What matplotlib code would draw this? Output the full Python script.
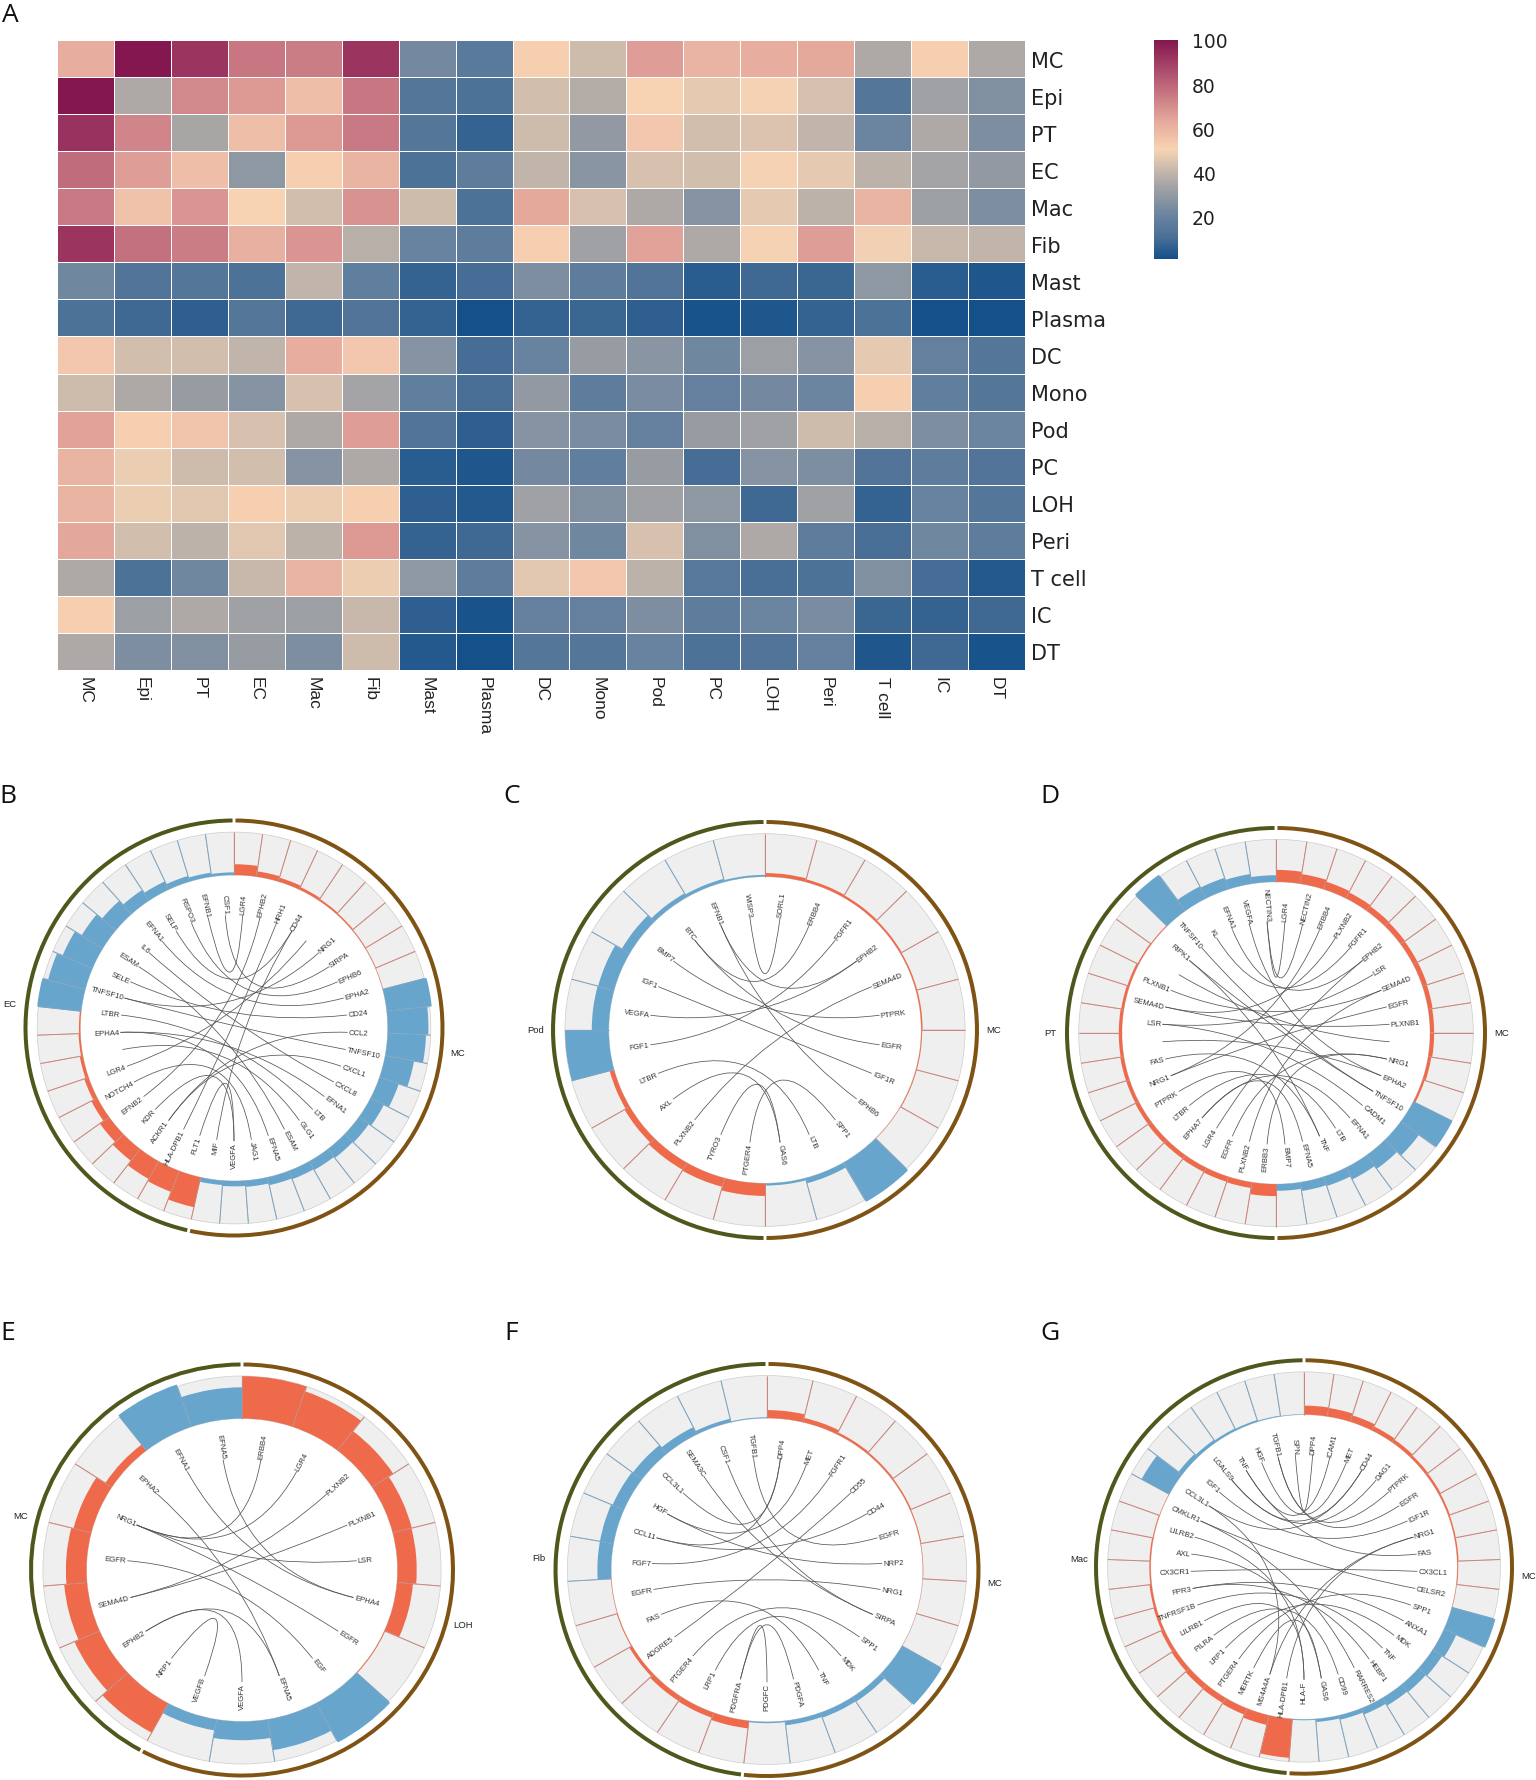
import numpy as np
import matplotlib
matplotlib.use('Agg')
import matplotlib.pyplot as plt
from matplotlib.colors import LinearSegmentedColormap
from matplotlib.patches import Wedge, PathPatch
from matplotlib.path import Path

W, H = 1536, 1781

##################
# Panel A: datos #
##################

cell_types = ['MC', 'Epi', 'PT', 'EC', 'Mac', 'Fib', 'Mast', 'Plasma', 'DC', 'Mono',
              'Pod', 'PC', 'LOH', 'Peri', 'T cell', 'IC', 'DT']

heat_mc = [62, 100, 92, 76, 74, 92, 23, 16, 52, 42, 66, 60, 62, 63, 36, 52, 36]
heat_epi = [100, 36, 71, 67, 57, 76, 14, 12, 43, 37, 51, 47, 50, 44, 14, 33, 26]
heat_pt = [93, 72, 35, 57, 67, 75, 14, 7, 42, 30, 54, 43, 45, 40, 21, 36, 25]
heat_ec = [78, 66, 57, 29, 52, 60, 12, 17, 40, 28, 44, 43, 50, 47, 39, 34, 30]
heat_mac = [75, 56, 68, 51, 43, 69, 42, 12, 63, 44, 36, 27, 47, 39, 60, 32, 25]
heat_fib = [92, 77, 74, 61, 68, 38, 20, 17, 52, 33, 65, 36, 50, 66, 49, 41, 40]
heat_mast = [22, 13, 14, 12, 40, 18, 7, 10, 25, 17, 13, 5, 9, 8, 29, 5, 3]
heat_plasma = [12, 9, 6, 14, 9, 13, 7, 1, 7, 8, 6, 2, 3, 7, 12, 1, 1]
heat_dc = [54, 43, 43, 40, 62, 54, 27, 10, 20, 31, 28, 22, 32, 27, 47, 19, 14]
heat_mono = [42, 36, 31, 27, 44, 34, 18, 11, 30, 17, 24, 19, 23, 21, 52, 18, 14]
heat_pod = [65, 52, 55, 44, 36, 66, 13, 6, 27, 24, 19, 31, 33, 42, 38, 25, 21]
heat_pc = [60, 48, 42, 43, 27, 36, 5, 3, 23, 18, 31, 10, 27, 25, 13, 17, 13]
heat_loh = [60, 48, 46, 52, 48, 52, 6, 4, 33, 26, 33, 29, 9, 33, 7, 20, 14]
heat_peri = [64, 43, 39, 46, 39, 67, 7, 9, 27, 22, 44, 26, 36, 17, 11, 22, 17]
heat_tcell = [36, 12, 22, 41, 60, 48, 29, 17, 46, 54, 39, 15, 11, 12, 26, 10, 4]
heat_ic = [52, 32, 36, 33, 32, 41, 6, 2, 19, 19, 25, 17, 21, 24, 8, 7, 9]
heat_dt = [36, 25, 26, 31, 25, 42, 4, 1, 14, 14, 20, 12, 13, 19, 3, 9, 2]

heat_rows = [heat_mc, heat_epi, heat_pt, heat_ec, heat_mac, heat_fib, heat_mast, heat_plasma,
             heat_dc, heat_mono, heat_pod, heat_pc, heat_loh, heat_peri, heat_tcell, heat_ic, heat_dt]

cbar_ticks = [20, 40, 60, 80, 100]

######################
# Paneles B-G: datos #
######################

b_genes = ['LGR4', 'EPHB2', 'HRH1', 'CD44', '', 'NRG1', 'SIRPA', 'EPHB6', 'EPHA2', 'CD24', 'CCL2',
           'TNFSF10', 'CXCL1', 'CXCL8', 'EFNA1', 'LTB', 'GLG1', 'ESAM', 'EFNA5', 'JAG1', 'VEGFA',
           'MIF', 'FLT1', 'HLA-DPB1', 'ACKR1', 'KDR', 'EFNB2', 'NOTCH4', 'LGR4', '', 'EPHA4', 'LTBR',
           'TNFSF10', 'SELE', 'ESAM', 'IL6', 'EFNA1', 'SELP', 'RSPO3', 'EFNB1', 'CSF1']
b_links = [(39, 0), (38, 7), (37, 3), (40, 6), (35, 13), (36, 8), (34, 17), (33, 9), (32, 5),
           (31, 15), (30, 18), (29, 16), (28, 4), (27, 19), (26, 1), (25, 20), (24, 12), (24, 10),
           (23, 2), (22, 20), (21, 3), (30, 14), (32, 11)]
b_right_red = [.24, .12, .09, .06, .04, .03, .02, .015, .01]
b_right_blue = [1.0, .9, .85, .65, .45, .33, .27, .25, .22, .2, .18, .14, .12, .1]
b_left_red = [.68, .5, .45, .33, .25, .15, .1, .07, .04, .03]
b_left_blue = [.98, .85, .72, .55, .4, .28, .2, .13, .09, .06]

c_genes = ['SORL1', 'ERBB4', 'FGFR1', 'EPHB2', 'SEMA4D', 'PTPRK', 'EGFR', 'IGF1R', 'EPHB6', 'SPP1',
           'LTB', 'GAS6', 'PTGER4', 'TYRO3', 'PLXNB2', 'AXL', 'LTBR', 'FGF1', 'VEGFA', 'IGF1',
           'BMP7', 'BTC', 'EFNB1', 'WISP3']
c_links = [(0, 23), (1, 21), (2, 17), (3, 22), (4, 14), (5, 20), (6, 21), (7, 19), (8, 22),
           (9, 12), (10, 16), (11, 15), (11, 13), (3, 18)]
c_right_red = [.08, .06, .05, .04, .03, .03, .02, .02, .01]
c_right_blue = [1.0, .12, .05]
c_left_red = [.28, .2, .18, .13, .1]
c_left_blue = [.95, .37, .36, .2, .1, .07, .04]

d_genes = ['LGR4', 'NECTIN2', 'ERBB4', 'PLXNB2', 'FGFR1', 'EPHB2', 'LSR', 'SEMA4D', 'EGFR', 'PLXNB1',
           '', 'NRG1', 'EPHA2', 'TNFSF10', 'CADM1', 'EFNA1', 'LTB', 'TNF', 'EFNA5', 'BMP7', 'ERBB3',
           'PLXNB2', 'EGFR', 'LGR4', 'EPHA7', 'LTBR', 'PTPRK', 'NRG1', 'FAS', '', 'LSR', 'SEMA4D',
           'PLXNB1', '', 'RIPK1', 'TNFSF10', 'KL', 'EFNA1', 'VEGFA', 'NECTIN3']
d_links = [(0, 39), (1, 39), (2, 27), (3, 31), (4, 36), (5, 37), (6, 30), (7, 21), (7, 32), (8, 27),
           (9, 31), (10, 33), (11, 22), (11, 20), (12, 38), (13, 34), (13, 35), (14, 30), (15, 24),
           (16, 25), (17, 28), (17, 34), (18, 24), (19, 26), (29, 12), (23, 5)]
d_right_red = [.27, .22, .18, .15, .13, .12, .11, .11, .1, .09, .09, .07, .05]
d_right_blue = [.97, .5, .38, .3, .22, .2, .15]
d_left_red = [.27, .13, .12, .11, .1, .1, .09, .08, .08, .07, .07, .06, .05, .03, .02]
d_left_blue = [1.0, .3, .27, .22, .15]

e_genes = ['ERBB4', 'LGR4', 'PLXNB2', 'PLXNB1', 'LSR', 'EPHA4', 'EGFR', 'EGF', 'EFNA5', 'VEGFA',
           'VEGFB', 'NRP1', 'EPHB2', 'SEMA4D', 'EGFR', 'NRG1', 'EPHA2', 'EFNA1', 'EFNA5']
e_links = [(0, 15), (1, 15), (2, 13), (3, 13), (4, 15), (5, 17), (5, 18), (6, 15), (7, 14),
           (8, 16), (8, 12), (9, 12), (11, 10)]
e_right_red = [.95, .84, .55, .43, .42, .35, .02]
e_right_blue = [1.0, .7, .42, .25]
e_left_red = [.75, .6, .5, .45, .4, .17]
e_left_blue = [1.0, .7]

f_genes = ['DPP4', 'MET', 'FGFR1', 'CD55', 'CD44', 'EGFR', 'NRP2', 'NRG1', 'SIRPA', 'SPP1', 'MDK',
           'TNF', 'PDGFA', 'PDGFC', 'PDGFRA', 'LRP1', 'PTGER4', 'ADGRE5', 'FAS', 'EGFR', 'FGF7',
           'CCL11', 'HGF', 'CCL3L1', 'SEMA3C', 'CSF1', 'TGFB1']
f_links = [(0, 21), (1, 22), (2, 20), (3, 17), (4, 21), (5, 26), (6, 22), (7, 19), (8, 24), (8, 25),
           (0, 23), (9, 16), (10, 15), (11, 18), (12, 14), (13, 14)]
f_right_red = [.18, .1, .05, .04, .03, .02, .01, .005, .005]
f_right_blue = [1.0, .13, .12, .1, .03]
f_left_red = [.17, .12, .11, .07, .02, .01]
f_left_blue = [.3, .3, .27, .25, .18, .08, .02]

g_genes = ['DPP4', 'ICAM1', 'MET', 'CD44', 'DAG1', 'PTPRK', 'EGFR', 'IGF1R', 'NRG1', 'FAS', 'CX3CL1',
           'CELSR2', 'SPP1', 'ANXA1', 'MDK', 'TNF', 'HEBP1', 'RARRES2', 'CD99', 'GAS6', 'HLA-F',
           'HLA-DPB1', 'MS4A4A', 'MERTK', 'PTGER4', 'LRP1', 'PILRA', 'LILRB1', 'TNFRSF1B', 'FPR3',
           'CX3CR1', 'AXL', 'LILRB2', 'CMKLR1', 'CCL3L1', 'IGF1', 'LGALS9', 'TNF', 'HGF', 'TGFB1', 'SPN']
g_links = [(0, 40), (1, 37), (2, 38), (3, 36), (4, 36), (5, 39), (6, 39), (7, 35), (8, 21), (9, 37),
           (10, 30), (11, 33), (12, 24), (13, 29), (14, 25), (15, 28), (16, 29), (17, 33), (18, 26),
           (19, 31), (20, 27), (20, 32), (22, 34), (23, 19), (8, 22), (3, 34)]
g_right_red = [.2, .19, .15, .1, .08, .06, .05, .04, .03, .03, .02, .01]
g_right_blue = [1.0, .3, .25, .22, .2, .15, .1, .07, .02]
g_left_red = [.87, .22, .15, .13, .12, .1, .08, .06, .05, .03, .03, .02, .01]
g_left_blue = [.7, .1, .07, .05, .04, .02, .01]

# letra, nombres de sector, genes, enlaces, alturas, centro (px), radios (px)
panels = [
    ('B', ('MC', 'EC'), b_genes, b_links, (b_right_red, b_right_blue, b_left_red, b_left_blue), (234, 1029), 210.5, 209.5, (8, 797)),
    ('C', ('MC', 'Pod'), c_genes, c_links, (c_right_red, c_right_blue, c_left_red, c_left_blue), (765, 1031), 214, 210, (512, 797)),
    ('D', ('MC', 'PT'), d_genes, d_links, (d_right_red, d_right_blue, d_left_red, d_left_blue), (1276, 1034), 211, 207, (1050, 797)),
    ('E', ('LOH', 'MC'), e_genes, e_links, (e_right_red, e_right_blue, e_left_red, e_left_blue), (242, 1571), 213, 207.5, (8, 1334)),
    ('F', ('MC', 'Fib'), f_genes, f_links, (f_right_red, f_right_blue, f_left_red, f_left_blue), (767, 1571), 213.5, 208, (511, 1334)),
    ('G', ('MC', 'Mac'), g_genes, g_links, (g_right_red, g_right_blue, g_left_red, g_left_blue), (1304, 1568), 210, 208.7, (1050, 1334)),
]

RED = '#ee6a4a'
BLUE = '#67a5cd'
RED_LINE = '#cf8378'
BLUE_LINE = '#7ba4c2'
BROWN = '#7f5314'
OLIVE = '#50561c'
R0, R1 = 0.73, 0.935


def px_axes(fig, x, y, w, h):
    return fig.add_axes([x / W, 1 - (y + h) / H, w / W, h / H])


def mpl_ang(t):
    # angulo horario desde arriba -> angulo de matplotlib
    return 90 - t


def wedge(ax, t0, t1, r, width, **kw):
    ax.add_patch(Wedge((0, 0), r, mpl_ang(t1), mpl_ang(t0), width=width, **kw))


def draw_chord(fig, panel):
    letter, sectors, genes, links, heights, center, rx, ry, letter_pos = panel
    pad = 1.12
    ax = px_axes(fig, center[0] - rx * pad, center[1] - ry * pad, 2 * rx * pad, 2 * ry * pad)
    ax.set_xlim(-pad, pad)
    ax.set_ylim(-pad, pad)
    ax.axis('off')

    n_cells = sum(len(h) for h in heights)
    step = 360 / n_cells
    n_right = len(heights[0]) + len(heights[1])

    # anillo exterior y nombre de cada sector
    split = n_right * step
    wedge(ax, 0.4, split - 0.4, 1.0, 0.019, fc=BROWN, ec='none')
    wedge(ax, split + 0.4, 359.6, 1.0, 0.019, fc=OLIVE, ec='none')
    for name, mid in zip(sectors, (split / 2, (split + 360) / 2)):
        a = np.radians(mpl_ang(mid))
        ax.text(1.07 * np.cos(a), 1.07 * np.sin(a), name, fontsize=6.8, ha='center', va='center',
                color='#222222', clip_on=False)

    # celdas con barras
    k = 0
    for vals, col, line_col in zip(heights, (RED, BLUE, RED, BLUE), (RED_LINE, BLUE_LINE, RED_LINE, BLUE_LINE)):
        for v in vals:
            t0, t1 = k * step, (k + 1) * step
            wedge(ax, t0, t1, R1, R1 - R0, fc='#efefef', ec='#cccccc', lw=0.5)
            rb = R0 + v * (R1 + 0.01 - R0)
            wedge(ax, t0, t1, rb, rb - R0, fc=col, ec='none')
            a = np.radians(mpl_ang(t0))
            ax.plot([R0 * np.cos(a), R1 * np.cos(a)], [R0 * np.sin(a), R1 * np.sin(a)],
                    color=line_col, lw=0.7, solid_capstyle='butt')
            k += 1

    # nombres de genes, repartidos en todo el circulo
    n_genes = len(genes)
    angles = (np.arange(n_genes) + 0.5) * 360 / n_genes
    for gene, t in zip(genes, angles):
        if not gene:
            continue
        a = np.radians(mpl_ang(t))
        right = t < 180
        rot = mpl_ang(t) if right else mpl_ang(t) + 180
        ax.text(0.545 * np.cos(a), 0.545 * np.sin(a), gene, fontsize=5.6, color='#333333',
                rotation=rot, rotation_mode='anchor', va='center',
                ha='left' if right else 'right')

    # enlaces: bezier cuadratica con control en el centro
    for i, j in links:
        ai, aj = np.radians(mpl_ang(angles[i])), np.radians(mpl_ang(angles[j]))
        verts = [(0.54 * np.cos(ai), 0.54 * np.sin(ai)), (0, 0), (0.54 * np.cos(aj), 0.54 * np.sin(aj))]
        path = Path(verts, [Path.MOVETO, Path.CURVE3, Path.CURVE3])
        ax.add_patch(PathPatch(path, fc='none', ec='#555555', lw=0.55))

    fig.text(letter_pos[0] / W, 1 - letter_pos[1] / H, letter, fontsize=19, family='Open Sans',
             ha='center', va='center', color='#111111')


fig = plt.figure(figsize=(W / 100, H / 100), dpi=100)
plt.rcParams['font.family'] = ['Liberation Sans', 'DejaVu Sans']

cmap = LinearSegmentedColormap.from_list('heat', [
    (0.0, '#15508a'), (0.1, '#4a7096'), (0.19, '#67829f'), (0.34, '#a7a5a5'), (0.5, '#f8d4b4'),
    (0.64, '#e3a59a'), (0.8, '#bc6479'), (1.0, '#851750')])

ax = px_axes(fig, 57, 41, 968, 630)
mesh = ax.pcolormesh(np.array(heat_rows), cmap=cmap, vmin=1, vmax=100, edgecolors='white', linewidth=0.7)
ax.invert_yaxis()
ax.set_xticks(np.arange(len(cell_types)) + 0.5)
ax.set_xticklabels(cell_types, rotation=-90, fontsize=12.5, color='#222222', ha='center', va='top')
ax.set_yticks(np.arange(len(cell_types)) + 0.5)
ax.set_yticklabels(cell_types, family='DejaVu Sans', fontsize=15, color='#222222')
ax.yaxis.tick_right()
ax.tick_params(length=0, pad=4)
for s in ax.spines.values():
    s.set_visible(False)

cax = px_axes(fig, 1154, 41, 24, 219)
cb = fig.colorbar(mesh, cax=cax, ticks=cbar_ticks)
cb.outline.set_visible(False)
cb.ax.tick_params(length=0, pad=10, labelsize=13.5, labelcolor='#222222')
for t in cb.ax.get_yticklabels():
    t.set_family('DejaVu Sans')

fig.text(10 / W, 1 - 16 / H, 'A', fontsize=19, family='Open Sans', ha='center', va='center', color='#111111')

for panel in panels:
    draw_chord(fig, panel)

fig.savefig('out.png', dpi=100, facecolor='white')
